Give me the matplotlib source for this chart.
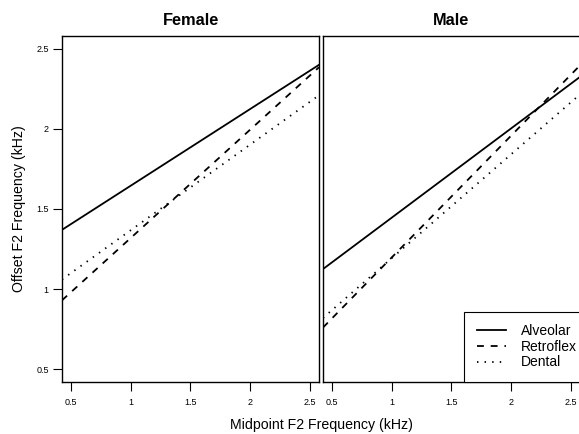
import numpy as np
import matplotlib
matplotlib.use("Agg")
import matplotlib.pyplot as plt

plt.rcParams['font.family'] = ['Liberation Sans', 'DejaVu Sans']

# line ends (x = midpoint F2, y = offset F2, kHz)
places = ['Alveolar', 'Retroflex', 'Dental']
female_x = [0.425, 2.575]
female_y = {'Alveolar': [1.37, 2.40],
            'Retroflex': [0.93, 2.385],
            'Dental': [1.06, 2.21]}
male_x = [0.422, 2.57]
male_y = {'Alveolar': [1.125, 2.32],
          'Retroflex': [0.76, 2.39],
          'Dental': [0.82, 2.21]}

xticks = [0.5, 1, 1.5, 2, 2.5]
xtick_labels = ['0.5', '1', '1.5', '2', '2.5']
yticks = [0.5, 1, 1.5, 2, 2.5]
ytick_labels = ['0.5', '1', '1.5', '2', '2.5']

styles = {'Alveolar': '-',
          'Retroflex': (0, (3.8, 3.8)),
          'Dental': (0, (0.8, 3.4))}

W, H = 579, 434
fig = plt.figure(figsize=(W / 100, H / 100), dpi=100)

def frac(x0, x1, ytop, ybot):
    return [x0 / W, 1 - ybot / H, (x1 - x0) / W, (ybot - ytop) / H]

ax1 = fig.add_axes(frac(62, 319, 36, 382))
ax2 = fig.add_axes(frac(323, 579, 36, 382))

for ax, xs, ys, title in [(ax1, female_x, female_y, 'Female'),
                          (ax2, male_x, male_y, 'Male')]:
    for p in places:
        ax.plot(xs, ys[p], color='black', lw=1.3, linestyle=styles[p], label=p)
    ax.set_xlim(xs[0], xs[1])
    ax.set_ylim(0.42, 2.58)
    ax.set_xticks(xticks)
    ax.set_xticklabels(xtick_labels)
    ax.tick_params(axis='x', direction='out', length=6.5, width=0.8,
                   labelsize=6.5, pad=5)
    ax.set_title(title, fontsize=11.8, fontweight='bold', pad=8)
    for s in ax.spines.values():
        s.set_linewidth(1.0)

ax1.set_yticks(yticks)
ax1.set_yticklabels(ytick_labels)
ax1.tick_params(axis='y', direction='out', length=6.5, width=0.8,
                labelsize=6.5, pad=3)
ax2.set_yticks([])
ax2.spines['right'].set_visible(False)

leg = ax2.legend(loc='lower left', bbox_to_anchor=((464 - 323) / 256, 0),
                 borderaxespad=0, fancybox=False, edgecolor='black',
                 framealpha=1, fontsize=10, handlelength=2.1,
                 handletextpad=1.1, borderpad=0.9, labelspacing=0.12)
leg.get_frame().set_linewidth(0.8)
leg.set_clip_on(False)

fig.text(321 / W, 1 - 425 / H, 'Midpoint F2 Frequency (kHz)',
         ha='center', va='center', fontsize=10.2)
fig.text(19 / W, 1 - 209 / H, 'Offset F2 Frequency (kHz)',
         ha='center', va='center', rotation=90, fontsize=10.2)

fig.savefig('out.png', dpi=100)
